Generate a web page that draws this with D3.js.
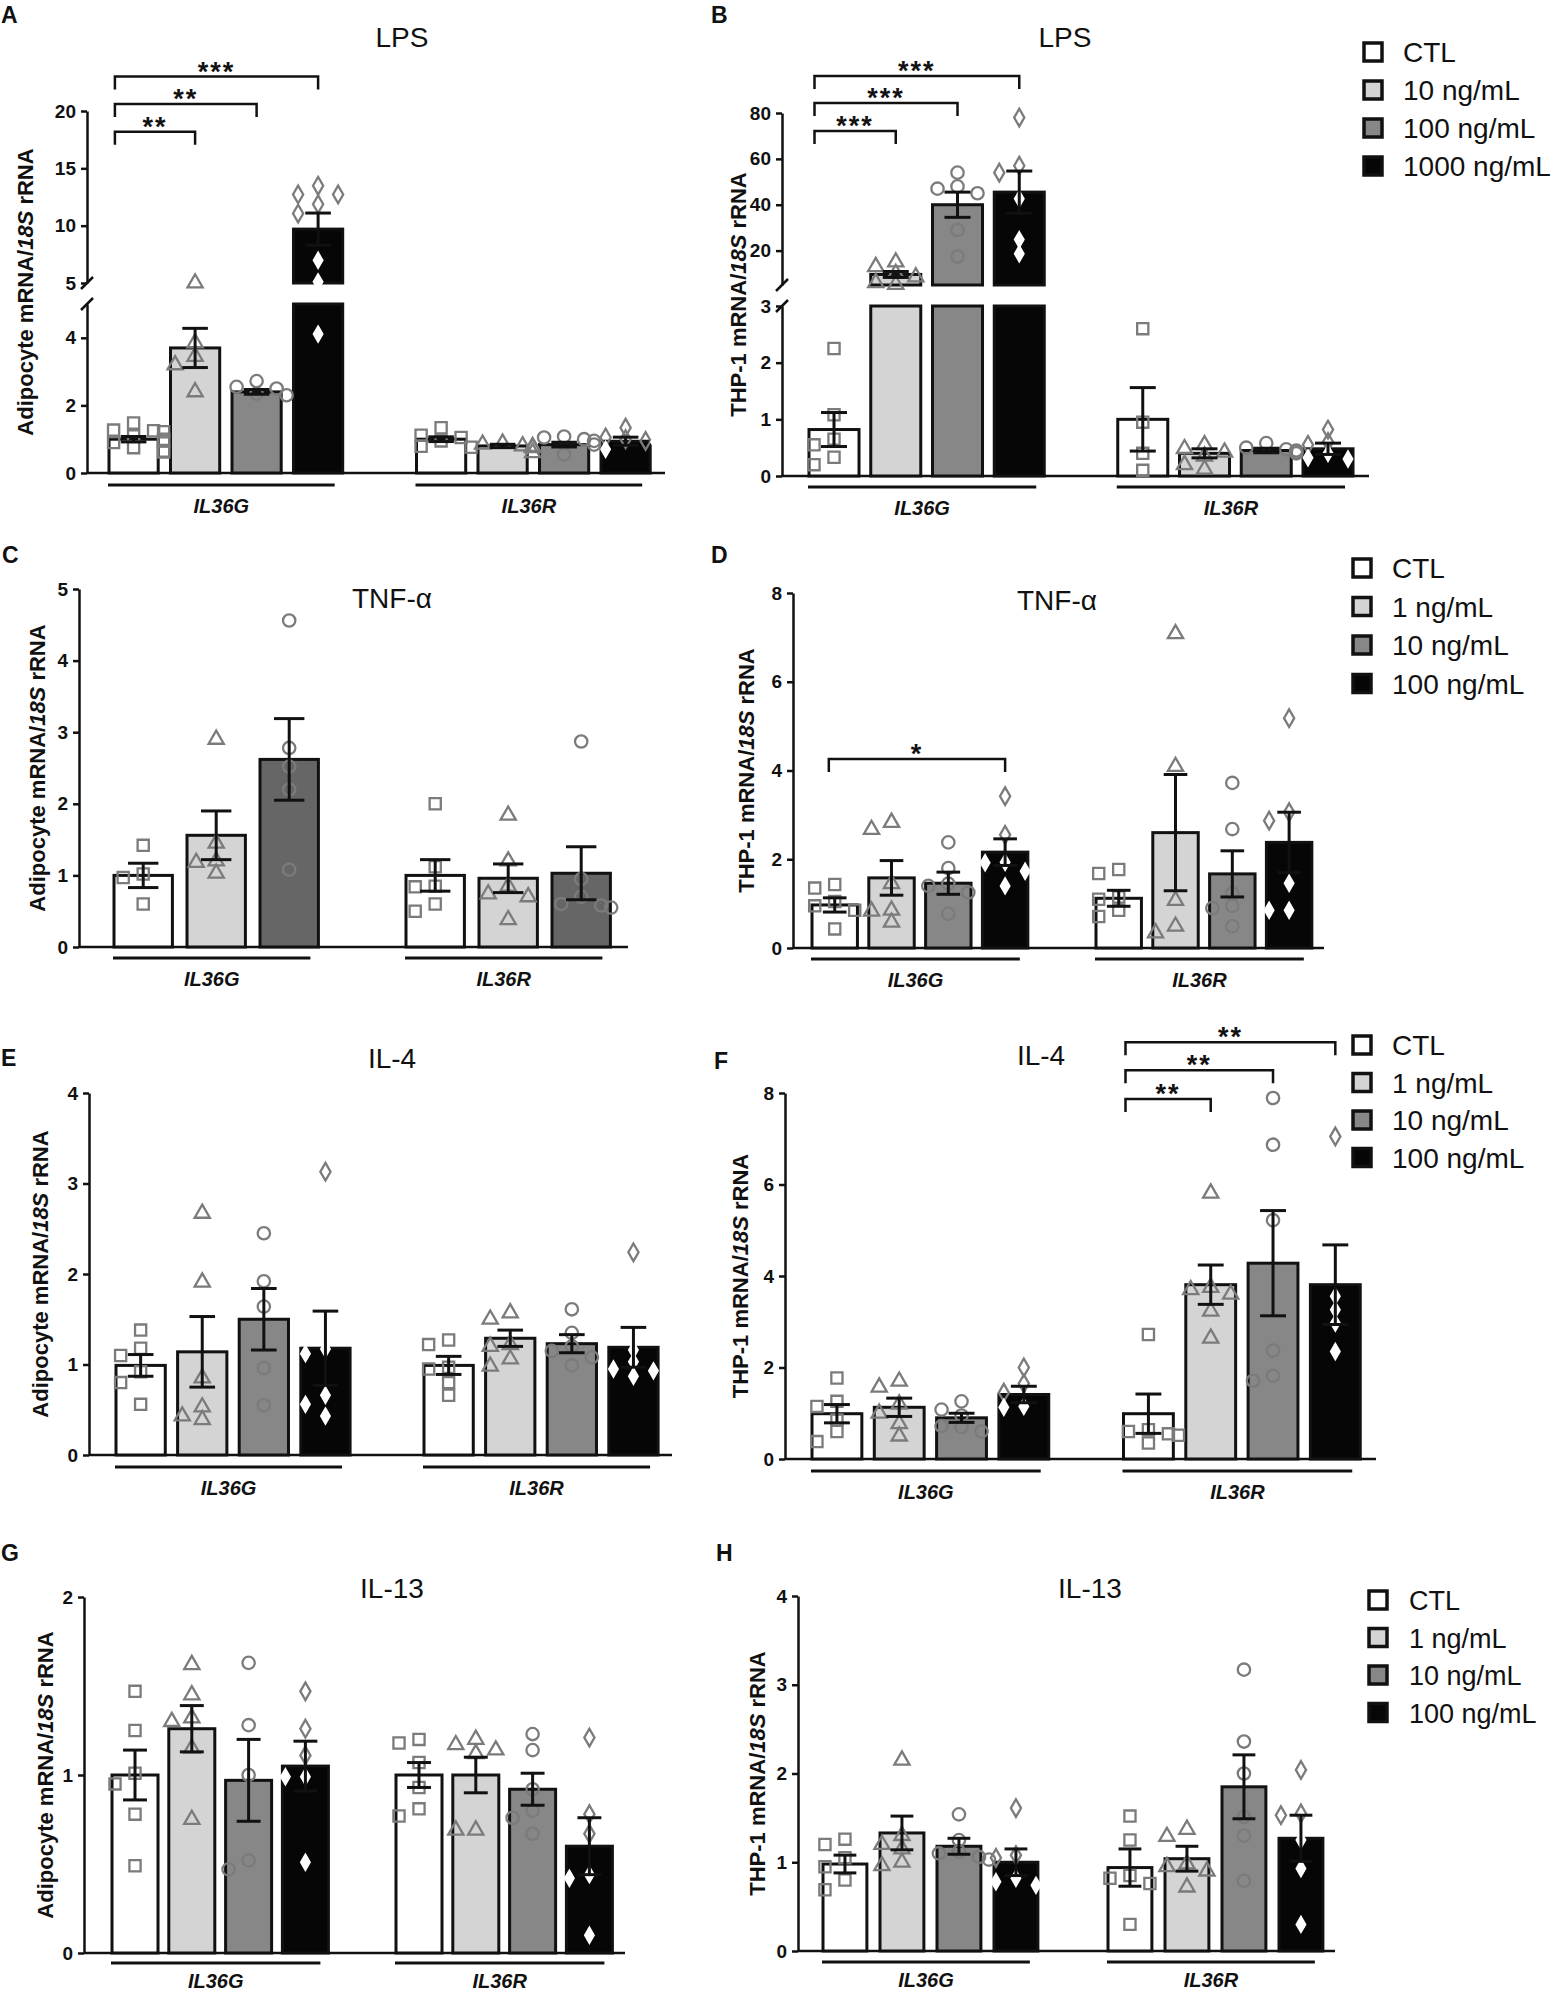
<!DOCTYPE html>
<html>
<head>
<meta charset="utf-8">
<script src="https://d3js.org/d3.v7.min.js"></script>
<style>
  body { margin: 0; background: #fff; }
  svg text { font-family: 'Liberation Sans', Arial, sans-serif; fill: #111; }
</style>
</head>
<body>
<div id="fig"></div>
<script>
// ---- data ----
var genes = ['IL36G', 'IL36R'];
var dosesLPS = ['CTL', '10 ng/mL', '100 ng/mL', '1000 ng/mL'];
var dosesCyto = ['CTL', '1 ng/mL', '10 ng/mL', '100 ng/mL'];

// A  LPS, adipocytes
var aMean = [[1.0, 3.7, 2.4, 9.7], [1.0, 0.8, 0.84, 0.94]];
var aSem = [[0.08, 0.58, 0.07, 1.4], [0.07, 0.05, 0.07, 0.12]];
var aPts = [
  [[1.48, 1.27, 1.25, 1.22, 1.1, 1.0, 0.95, 0.9, 0.75, 0.65, 0.62], [5.0, 3.85, 3.45, 3.2, 2.4],
   [2.72, 2.55, 2.5, 2.35, 2.3], [13.48, 12.72, 12.72, 11.87, 11.06, 6.98, 5.1, 4.11]],
  [[1.34, 1.12, 1.05, 0.95, 0.79, 0.76], [0.88, 0.85, 0.8, 0.78, 0.75, 0.6],
   [1.08, 1.05, 1.0, 0.95, 0.84, 0.55], [1.34, 1.05, 1.0, 0.95, 0.92, 0.7]]
];
var aSig = [{g: 0, a: 0, b: 1, y: 18.2, t: '**'}, {g: 0, a: 0, b: 2, y: 20.6, t: '**'}, {g: 0, a: 0, b: 3, y: 23.0, t: '***'}];

// B  LPS, THP-1
var bMean = [[0.82, 9.6, 40, 45.5], [1.0, 0.4, 0.45, 0.48]];
var bSem = [[0.3, 1.3, 5.5, 9.2], [0.56, 0.08, 0.04, 0.1]];
var bPts = [
  [[2.25, 1.08, 0.65, 0.55, 0.33, 0.2], [15, 13, 10, 8.5, 6, 5.2],
   [54, 48, 47, 45, 29, 17.4], [78, 57, 54, 42.6, 24.8, 18.6]],
  [[2.6, 0.95, 0.4, 0.1], [0.55, 0.48, 0.42, 0.35, 0.2, 0.12],
   [0.58, 0.5, 0.47, 0.45, 0.43, 0.4], [0.82, 0.6, 0.55, 0.4, 0.32, 0.3]]
];
var bSig = [{g: 0, a: 0, b: 1, y: 72.2, t: '***'}, {g: 0, a: 0, b: 2, y: 84.4, t: '***'}, {g: 0, a: 0, b: 3, y: 96.1, t: '***'}];

// C  TNF-a, adipocytes (three groups)
var cMean = [[1.0, 1.56, 2.62], [1.0, 0.96, 1.03]];
var cSem = [[0.17, 0.34, 0.57], [0.22, 0.2, 0.37]];
var cPts = [
  [[1.42, 1.02, 0.97, 0.6], [2.9, 1.45, 1.2, 1.18, 1.03], [4.56, 2.78, 2.52, 2.2, 1.08]],
  [[2.0, 1.12, 0.85, 0.84, 0.6, 0.5], [1.84, 1.2, 0.85, 0.74, 0.7, 0.38], [2.87, 0.95, 0.7, 0.6, 0.58, 0.55]]
];

// D  TNF-a, THP-1
var dMean = [[0.97, 1.58, 1.46, 2.16], [1.12, 2.6, 1.67, 2.38]];
var dSem = [[0.16, 0.39, 0.25, 0.3], [0.18, 1.31, 0.52, 0.68]];
var dPts = [
  [[1.43, 1.35, 1.05, 0.95, 0.85, 0.43], [2.83, 2.67, 1.45, 0.85, 0.83, 0.58],
   [2.38, 1.8, 1.45, 1.4, 1.25, 0.77], [3.42, 2.55, 1.93, 1.92, 1.73, 1.4]],
  [[1.77, 1.68, 1.15, 1.1, 0.85, 0.71], [7.08, 4.09, 1.07, 0.49, 0.34],
   [3.72, 2.68, 1.23, 0.95, 0.9, 0.49], [5.18, 3.06, 2.87, 1.46, 0.85, 0.85]]
];
var dSig = [{g: 0, a: 0, b: 3, y: 4.26, t: '*'}];

// E  IL-4, adipocytes
var eMean = [[0.99, 1.14, 1.5, 1.18], [0.99, 1.29, 1.23, 1.19]];
var eSem = [[0.12, 0.39, 0.34, 0.41], [0.1, 0.09, 0.1, 0.22]];
var ePts = [
  [[1.38, 1.18, 1.1, 0.92, 0.8, 0.56], [2.67, 1.91, 0.85, 0.53, 0.43, 0.39],
   [2.45, 1.92, 1.64, 0.96, 0.55], [3.13, 1.17, 1.12, 0.66, 0.56, 0.43]],
  [[1.27, 1.22, 0.97, 0.95, 0.8, 0.66], [1.57, 1.5, 1.22, 1.2, 1.06, 0.98],
   [1.61, 1.35, 1.2, 1.15, 1.08, 0.99], [2.24, 1.16, 1.03, 0.95, 0.93, 0.87]]
];

// F  IL-4, THP-1
var fMean = [[0.99, 1.13, 0.9, 1.41], [0.99, 3.81, 4.28, 3.81]];
var fSem = [[0.2, 0.2, 0.1, 0.18], [0.43, 0.43, 1.15, 0.87]];
var fPts = [
  [[1.77, 1.26, 1.15, 0.85, 0.6, 0.38], [1.7, 1.57, 1.2, 1.0, 0.77, 0.5],
   [1.26, 1.08, 0.95, 0.72, 0.7, 0.6], [2.0, 1.65, 1.45, 1.15, 1.13]],
  [[2.72, 0.64, 0.6, 0.55, 0.52, 0.35], [5.81, 3.75, 3.7, 3.6, 3.23, 2.64],
   [7.89, 6.87, 5.22, 2.37, 1.82, 1.71], [7.05, 3.56, 3.26, 2.97, 2.35]]
];
var fSig = [{g: 1, a: 0, b: 1, y: 7.87, t: '**'}, {g: 1, a: 0, b: 2, y: 8.5, t: '**'}, {g: 1, a: 0, b: 3, y: 9.11, t: '**'}];

// G  IL-13, adipocytes
var gMean = [[1.0, 1.26, 0.97, 1.05], [1.0, 1.0, 0.92, 0.6]];
var gSem = [[0.14, 0.13, 0.23, 0.14], [0.07, 0.1, 0.09, 0.16]];
var gPts = [
  [[1.47, 1.25, 1.01, 0.95, 0.78, 0.49], [1.62, 1.45, 1.32, 1.3, 1.15, 0.75],
   [1.63, 1.28, 1.0, 0.52, 0.47], [1.47, 1.26, 1.11, 0.99, 0.99, 0.51]],
  [[1.2, 1.18, 1.07, 0.93, 0.81, 0.77], [1.2, 1.17, 1.14, 1.12, 0.69, 0.69],
   [1.23, 1.14, 0.92, 0.8, 0.76, 0.67], [1.21, 0.78, 0.67, 0.44, 0.42, 0.1]]
];

// H  IL-13, THP-1
var hMean = [[0.98, 1.33, 1.18, 1.0], [0.94, 1.04, 1.85, 1.27]];
var hSem = [[0.1, 0.19, 0.09, 0.15], [0.21, 0.14, 0.36, 0.26]];
var hPts = [
  [[1.26, 1.2, 1.05, 0.95, 0.8, 0.69], [2.15, 1.3, 1.2, 1.15, 1.0, 0.96],
   [1.54, 1.25, 1.12, 1.1, 1.06, 1.03], [1.61, 1.08, 1.05, 0.82, 0.78, 0.74]],
  [[1.52, 1.25, 0.85, 0.82, 0.76, 0.3], [1.37, 1.29, 0.98, 0.95, 0.9, 0.72],
   [3.17, 2.36, 2.0, 1.51, 1.3, 0.79], [2.04, 1.55, 1.53, 1.25, 0.93, 0.3]]
];

// ---- styling ----
var fills = ['#ffffff', '#d4d4d4', '#878787', '#060606'];
var fillsC = ['#ffffff', '#d4d4d4', '#666666'];
var ptGray = '#7b7b7b';
var shapes = [d3.symbolSquare, d3.symbolTriangle, d3.symbolCircle, d3.symbolDiamond];
var shapeSize = [125, 100, 120, 90];

var svg = d3.select('#fig').append('svg')
    .attr('width', 1554)
    .attr('height', 1993);
svg.append('rect').attr('width', 1554).attr('height', 1993).attr('fill', '#fff');

// spread points sideways where they would overlap (like a scatter dot plot)
function spread(vals, yOf) {
    var placed = [];
    var order = vals.map(function (v, i) { return {v: v, i: i}; })
        .sort(function (a, b) { return b.v - a.v; });
    var cands = [0, -1, 1, -2, 2, -3, 3];
    order.forEach(function (p) {
        var py = yOf(p.v), dx = cands[cands.length - 1] * 10;
        for (var k = 0; k < cands.length; k++) {
            var c = cands[k] * 10;
            var hit = placed.some(function (q) { return Math.abs(q.py - py) < 11 && Math.abs(q.dx - c) < 11; });
            if (!hit) { dx = c; break; }
        }
        placed.push({v: p.v, py: py, dx: dx});
    });
    return placed;
}

function drawPanel(P) {
    var L = P.L;
    var g = svg.append('g');
    var slots = [];
    genes.forEach(function (gn, gi) {
        if (gi) slots.push('gap');
        P.doses.forEach(function (d, di) { slots.push(gn + '|' + di); });
    });
    var x = d3.scaleBand().domain(slots)
        .range([L.r0, L.r0 + L.step * (slots.length - L.pad)])
        .paddingInner(L.pad).paddingOuter(0);
    var bw = x.bandwidth();
    var yLo = d3.scaleLinear().domain(L.lo.dom).range(L.lo.rng);
    var yHi = L.hi ? d3.scaleLinear().domain(L.hi.dom).range(L.hi.rng) : null;
    var yOf = function (v) { return (yHi && v >= L.hi.dom[0]) ? yHi(v) : yLo(v); };
    var yTop = yHi || yLo;
    var slot = function (gi, di) { return x(genes[gi] + '|' + di); };

    // y axis (one or two segments)
    function axisSeg(scale, ticks) {
        var a = g.append('g')
            .attr('transform', 'translate(' + L.ax[0] + ',0)')
            .call(d3.axisLeft(scale).tickValues(ticks).tickSize(6).tickSizeOuter(0).tickPadding(5).tickFormat(d3.format('d')));
        a.selectAll('path, line').attr('stroke', '#111').attr('stroke-width', 2.5);
        a.selectAll('text').style('font-size', '19px').style('font-weight', 'bold')
            .style('font-family', "'Liberation Sans', Arial, sans-serif").attr('fill', '#111');
    }
    axisSeg(yLo, L.lo.ticks);
    if (yHi) {
        axisSeg(yHi, L.hi.ticks);
        [yHi(L.hi.dom[0]), yLo(L.lo.dom[1])].forEach(function (yy) {
            g.append('line')
                .attr('x1', L.ax[0] - 6).attr('y1', yy + 6)
                .attr('x2', L.ax[0] + 6).attr('y2', yy - 6)
                .attr('stroke', '#111').attr('stroke-width', 2.5);
        });
    }
    // x axis line
    g.append('line')
        .attr('x1', L.ax[0]).attr('x2', L.ax[1])
        .attr('y1', yLo(0)).attr('y2', yLo(0))
        .attr('stroke', '#111').attr('stroke-width', 2.5);

    // bars
    var bars = [];
    genes.forEach(function (gn, gi) {
        P.mean[gi].forEach(function (m, di) {
            bars.push({gi: gi, di: di, mean: m, sem: P.sem[gi][di], pts: P.pts[gi][di]});
        });
    });
    var fillArr = P.fills || fills;

    bars.forEach(function (b) {
        var segs;
        if (yHi && b.mean > L.lo.dom[1]) {
            segs = [[0, L.lo.dom[1], yLo], [L.hi.dom[0], b.mean, yHi]];
        } else {
            segs = [[0, b.mean, yLo]];
        }
        g.selectAll(null).data(segs).enter().append('rect')
            .attr('x', slot(b.gi, b.di))
            .attr('width', bw)
            .attr('y', function (s) { return s[2](s[1]); })
            .attr('height', function (s) { return s[2](s[0]) - s[2](s[1]); })
            .attr('fill', fillArr[b.di])
            .attr('stroke', '#111')
            .attr('stroke-width', 3);
    });

    // individual points
    bars.forEach(function (b) {
        var cx = slot(b.gi, b.di) + bw / 2;
        var dark = b.di === 3;
        g.selectAll(null).data(spread(b.pts, yOf)).enter().append('path')
            .attr('d', function (p) {
                var inside = dark && p.v <= b.mean;
                return d3.symbol().type(shapes[b.di]).size(inside ? shapeSize[b.di] * 0.7 : shapeSize[b.di])();
            })
            .attr('transform', function (p) { return 'translate(' + (cx + p.dx) + ',' + p.py + ')'; })
            .attr('fill', function (p) { return dark && p.v <= b.mean ? '#fff' : 'none'; })
            .attr('stroke', function (p) { return dark && p.v <= b.mean ? '#fff' : ptGray; })
            .attr('stroke-width', 2.3);
    });

    // error bars (SEM)
    bars.forEach(function (b) {
        var cx = slot(b.gi, b.di) + bw / 2;
        var y1 = yOf(b.mean - b.sem), y2 = yOf(b.mean + b.sem);
        var eb = g.append('g').attr('stroke', '#111').attr('stroke-width', 3);
        eb.append('line').attr('x1', cx).attr('x2', cx).attr('y1', y1).attr('y2', y2);
        [y1, y2].forEach(function (yy) {
            eb.append('line').attr('x1', cx - bw * 0.26).attr('x2', cx + bw * 0.26).attr('y1', yy).attr('y2', yy);
        });
    });

    // gene underlines and labels
    genes.forEach(function (gn, gi) {
        var last = P.doses.length - 1;
        var x1 = slot(gi, 0) - 1, x2 = slot(gi, last) + bw - 8;
        g.append('line').attr('x1', x1).attr('x2', x2)
            .attr('y1', L.gy).attr('y2', L.gy)
            .attr('stroke', '#111').attr('stroke-width', 3);
        g.append('text').attr('x', (x1 + x2) / 2).attr('y', L.gy + (L.gly || 28))
            .attr('text-anchor', 'middle')
            .style('font-size', '20px').style('font-weight', 'bold').style('font-style', 'italic')
            .text(gn);
    });

    // significance brackets
    (P.sig || []).forEach(function (s) {
        var xa = slot(s.g, s.a) + bw * L.brL;
        var xb = slot(s.g, s.b) + bw / 2;
        var yy = yTop(s.y);
        g.append('path')
            .attr('d', 'M' + xa + ',' + (yy + 13) + 'V' + yy + 'H' + xb + 'V' + (yy + 13))
            .attr('fill', 'none').attr('stroke', '#111').attr('stroke-width', 2.5);
        g.append('text').attr('x', (xa + xb) / 2).attr('y', yy + 4)
            .attr('text-anchor', 'middle')
            .style('font-size', '27px').style('font-weight', 'bold').style('letter-spacing', '2px')
            .text(s.t);
    });

    // title, panel letter, y label
    g.append('text').attr('x', L.title[0]).attr('y', L.title[1] + 10)
        .attr('text-anchor', 'middle').style('font-size', '28px').text(P.title);
    g.append('text').attr('x', L.letter[0]).attr('y', L.letter[1] + 8)
        .style('font-size', '23px').style('font-weight', 'bold').text(P.letter);
    var midY = (yLo(0) + yTop.range()[1]) / 2;
    var yl = g.append('text')
        .attr('transform', 'translate(' + L.ylab + ',' + midY + ') rotate(-90)')
        .attr('text-anchor', 'middle').attr('dy', '0.35em')
        .style('font-size', '22px').style('font-weight', 'bold');
    yl.append('tspan').text(P.ylab + ' mRNA/');
    yl.append('tspan').style('font-style', 'italic').text('18S');
    yl.append('tspan').text(' rRNA');

    // legend
    if (L.legend) {
        var lg = L.legend;
        P.doses.forEach(function (d, di) {
            var ry = lg.y + di * lg.step;
            g.append('rect').attr('x', lg.sx).attr('y', ry - 9).attr('width', 18).attr('height', 18)
                .attr('fill', fills[di]).attr('stroke', '#111').attr('stroke-width', 3.5);
            g.append('text').attr('x', lg.tx).attr('y', ry + 10)
                .style('font-size', lg.fs + 'px').text(d);
        });
    }
}

// ---- panel layout ----
var panels = [
    {letter: 'A', title: 'LPS', ylab: 'Adipocyte', doses: dosesLPS, mean: aMean, sem: aSem, pts: aPts, sig: aSig,
     L: {ax: [87, 665], r0: 109, step: 61.5, pad: 0.2, brL: 0.12,
         lo: {dom: [0, 5], rng: [473, 304], ticks: [0, 2, 4]}, hi: {dom: [5, 20], rng: [283, 111], ticks: [5, 10, 15, 20]},
         title: [402, 37], letter: [1, 15], ylab: 25, gy: 485}},
    {letter: 'B', title: 'LPS', ylab: 'THP-1', doses: dosesLPS, mean: bMean, sem: bSem, pts: bPts, sig: bSig,
     L: {ax: [782, 1369], r0: 809, step: 61.75, pad: 0.19, brL: 0.11,
         lo: {dom: [0, 3], rng: [476, 306], ticks: [0, 1, 2, 3]}, hi: {dom: [5, 80], rng: [285, 113], ticks: [20, 40, 60, 80]},
         title: [1065, 37], letter: [711, 15], ylab: 738, gy: 487,
         legend: {sx: 1364, tx: 1403, y: 52, step: 38, fs: 28}}},
    {letter: 'C', title: 'TNF-α', ylab: 'Adipocyte', doses: dosesCyto.slice(0, 3), mean: cMean, sem: cSem, pts: cPts, fills: fillsC,
     L: {ax: [79, 628], r0: 114, step: 73, pad: 0.2, brL: 0.12,
         lo: {dom: [0, 5], rng: [947, 589], ticks: [0, 1, 2, 3, 4, 5]}, hi: null,
         title: [392, 598], letter: [2, 555], ylab: 37, gy: 958}},
    {letter: 'D', title: 'TNF-α', ylab: 'THP-1', doses: dosesCyto, mean: dMean, sem: dSem, pts: dPts, sig: dSig,
     L: {ax: [793, 1324], r0: 812, step: 56.8, pad: 0.2, brL: 0.37,
         lo: {dom: [0, 8], rng: [948, 593], ticks: [0, 2, 4, 6, 8]}, hi: null,
         title: [1057, 600], letter: [711, 555], ylab: 746, gy: 959,
         legend: {sx: 1353, tx: 1392, y: 568, step: 38.5, fs: 28}}},
    {letter: 'E', title: 'IL-4', ylab: 'Adipocyte', doses: dosesCyto, mean: eMean, sem: eSem, pts: ePts,
     L: {ax: [89, 672], r0: 116, step: 61.6, pad: 0.2, brL: 0.12,
         lo: {dom: [0, 4], rng: [1455, 1093], ticks: [0, 1, 2, 3, 4]}, hi: null,
         title: [392, 1058], letter: [1, 1058], ylab: 40, gy: 1467}},
    {letter: 'F', title: 'IL-4', ylab: 'THP-1', doses: dosesCyto, mean: fMean, sem: fSem, pts: fPts, sig: fSig,
     L: {ax: [785, 1376], r0: 812, step: 62.3, pad: 0.2, brL: 0.04,
         lo: {dom: [0, 8], rng: [1459, 1093], ticks: [0, 2, 4, 6, 8]}, hi: null,
         title: [1041, 1055], letter: [714, 1061], ylab: 740, gy: 1471,
         legend: {sx: 1353, tx: 1392, y: 1045, step: 37.5, fs: 28}}},
    {letter: 'G', title: 'IL-13', ylab: 'Adipocyte', doses: dosesCyto, mean: gMean, sem: gSem, pts: gPts,
     L: {ax: [84, 625], r0: 112, step: 56.8, pad: 0.19, brL: 0.12,
         lo: {dom: [0, 2], rng: [1953, 1597], ticks: [0, 1, 2]}, hi: null,
         title: [392, 1588], letter: [1, 1553], ylab: 45, gy: 1963, gly: 25}},
    {letter: 'H', title: 'IL-13', ylab: 'THP-1', doses: dosesCyto, mean: hMean, sem: hSem, pts: hPts,
     L: {ax: [798, 1335], r0: 823, step: 57, pad: 0.23, brL: 0.12,
         lo: {dom: [0, 4], rng: [1951, 1596], ticks: [0, 1, 2, 3, 4]}, hi: null,
         title: [1090, 1588], letter: [716, 1553], ylab: 757, gy: 1962, gly: 25,
         legend: {sx: 1369, tx: 1409, y: 1600, step: 37.5, fs: 27}}}
];

panels.forEach(drawPanel);
</script>
</body>
</html>
